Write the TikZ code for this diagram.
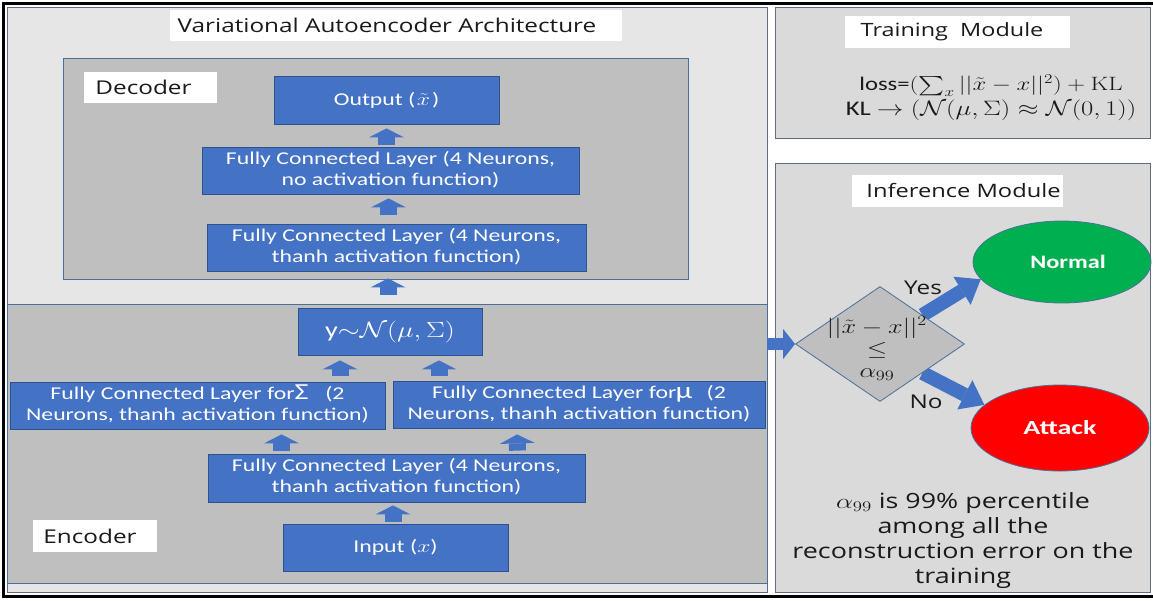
\RequirePackage{fix-cm}
\documentclass[tikz,border=0pt]{standalone}
\usepackage{amsmath,amssymb}
\usepackage[no-math]{fontspec}
\usepackage{graphicx}
\setmainfont{Carlito}
\newfontfamily\osans{Open Sans}
\usetikzlibrary{calc,shapes.geometric,arrows.meta}
\definecolor{boxblue}{HTML}{4472C4}
\definecolor{boxedge}{HTML}{2F528F}
\definecolor{panelgray}{HTML}{BFBFBF}
\definecolor{paneledge}{HTML}{4A6F99}
\definecolor{lightpanel}{HTML}{E7E6E6}
\definecolor{rightpanel}{HTML}{DADADA}
\definecolor{rpedge}{HTML}{5E6E80}
\definecolor{okgreen}{HTML}{00B050}
\definecolor{txtdark}{HTML}{1A1A1A}
\newcommand{\hs}[1]{\scalebox{1.28}[1]{#1}}
\newcommand{\hsb}[1]{\scalebox{1.32}[1]{#1}}
\newcommand{\twol}[2]{\hsb{\begin{tabular}{@{}c@{}}#1\\#2\end{tabular}}}
\pgfdeclarelayer{panels}
\pgfdeclarelayer{arrowlayer}
\pgfsetlayers{panels,arrowlayer,main}
\begin{document}
\begin{tikzpicture}[x=1pt,y=-1pt,
  sz/.style 2 args={minimum width=#1pt,minimum height=#2pt},
  lpanel/.style={fill=lightpanel,draw=rpedge,line width=0.8pt,inner sep=0pt},
  panel/.style={fill=panelgray,draw=paneledge,line width=0.8pt,inner sep=0pt},
  rpanel/.style={fill=rightpanel,draw=rpedge,line width=0.9pt,inner sep=0pt},
  wlabel/.style={fill=white,inner sep=0pt,text=txtdark,font=\osans\fontsize{19}{22}\selectfont},
  bluebox/.style={fill=boxblue,draw=boxedge,line width=0.8pt,inner sep=0pt,text=white,font=\fontsize{18}{21}\selectfont},
  uarrow/.style={draw=boxblue,line width=17pt,-{Triangle[width=35pt,length=9pt,line width=0pt]}},
  earrow/.style={draw=boxblue,line width=12pt,-{Triangle[width=30pt,length=12pt,line width=0pt]}},
  darrow/.style={draw=boxblue,line width=14pt,-{Triangle[width=33pt,length=22pt,line width=0pt]}},
  oval/.style={ellipse,draw=paneledge,line width=0.8pt,inner sep=0pt,minimum width=178pt,minimum height=82pt,text=white,font=\bfseries\fontsize{19}{22}\selectfont},
  plain/.style={text=txtdark,inner sep=0pt}]
\useasboundingbox (0,0) rectangle (1153,600);

\begin{pgfonlayer}{panels}
\fill[white] (0,0) rectangle (1153,600);
\node[lpanel,sz={760}{585}] (vae) at (387,299.5) {};
\node[panel,sz={625}{221}] (decp) at (375.5,168.5) {};
\node[panel,sz={760}{279}] (encp) at (387,443.5) {};
\node[rpanel,sz={375}{131}] (train) at (962.5,72.5) {};
\node[rpanel,sz={375}{429}] (inf) at (962.5,377.5) {};
\end{pgfonlayer}

\draw[line width=3pt] (1153,3.5) -- (3.5,3.5) -- (3.5,596) -- (1153,596);

% left: VAE
\node[wlabel,sz={452}{31}] (title) at (396,25.5) {\hs{Variational Autoencoder Architecture}\hspace*{18pt}};
\node[wlabel,sz={133}{31}] (decl) at (150.5,87.5) {\hs{Decoder}\hspace*{14pt}};
\node[bluebox,sz={225}{48}] (out) at (386.5,100) {\hsb{Output (\kern1pt$\tilde{x}$\kern1.5pt)}};
\node[bluebox,sz={377}{47}] (fc1) at (390.5,170.5) {\twol{Fully Connected Layer (4 Neurons,}{no activation function)}};
\node[bluebox,sz={379}{47}] (fc2) at (396.5,247.5) {\twol{Fully Connected Layer (4 Neurons,}{thanh activation function)}};
\node[bluebox,sz={184}{47},font=\fontsize{22}{24}\selectfont] (lat) at (390,331.5) {\hs{y$\mathord{\sim}\mathcal{N}(\mu,\Sigma)$}};
\node[bluebox,sz={375}{47}] (fcs) at (197.5,405.5) {\twol{Fully Connected Layer for{\fontsize{23}{23}\selectfont Σ}\hspace{0.7em}(2}{Neurons, thanh activation function)}};
\node[bluebox,sz={372}{47}] (fcm) at (579,404.5) {\twol{Fully Connected Layer for\kern-0.5pt{\fontsize{23}{23}\selectfont μ}\hspace{0.6em}(2}{Neurons, thanh activation function)}};
\node[bluebox,sz={377}{48}] (fc3) at (396.5,478) {\twol{Fully Connected Layer (4 Neurons,}{thanh activation function)}};
\node[bluebox,sz={225}{47}] (inp) at (395.5,547.5) {\hsb{Input ($x$)}};
\node[wlabel,sz={124}{32}] (encl) at (95,536) {\hs{Encoder}\hspace*{10pt}};

\begin{pgfonlayer}{arrowlayer}
\draw[uarrow] ($(out.south |- fc1.north)+(0,-2)$) -- ($(out.south)+(0,4)$);
\draw[uarrow] ($(fc1.south)+(-2,21)$) -- ($(fc1.south)+(-2,4)$);
\draw[uarrow] ($(lat.north |- encp.north)+(-2,-9)$) -- ($(lat.north |- decp.south)+(-2,-1)$);
\draw[uarrow] ($(lat.south |- fcs.north)+(-50,-6)$) -- ($(lat.south)+(-50,5)$);
\draw[uarrow] ($(lat.south |- fcm.north)+(49,-5)$) -- ($(lat.south)+(49,5)$);
\draw[uarrow] ($(fc3.north)+(-115,-3)$) -- ($(fcs.south)+(84,5)$);
\draw[uarrow] ($(fc3.north)+(121,-3)$) -- ($(fcm.south)+(-62,6)$);
\draw[uarrow] ($(inp.north)+(-2.5,-2)$) -- ($(fc3.south)+(-3.5,3)$);
\end{pgfonlayer}

% right: training
\node[wlabel,sz={225}{32},font=\osans\fontsize{18.3}{22}\selectfont] (trainl) at (957.5,32) {\hs{Training\ \ Module}\hspace*{11pt}};
\node[plain,font=\fontsize{19.3}{25}\selectfont] (loss) at (991,98) {\hs{\begin{tabular}{@{}c@{}}loss=$(\sum_x||\tilde{x}-x||^2)+\mathrm{KL}$\\\scalebox{1.08}{KL $\rightarrow(\mathcal{N}(\mu,\Sigma)\approx\mathcal{N}(0,1))$}\end{tabular}}};

% right: inference
\node[wlabel,sz={211}{32},font=\osans\fontsize{18.5}{22}\selectfont] (infl) at (957.5,191) {\hspace*{12pt}\hs{Inference Module}};
\node[diamond,draw=paneledge,line width=0.8pt,fill=panelgray,minimum width=169pt,minimum height=115pt,inner sep=0pt] (dia) at (880,344) {};
\node[plain,font=\fontsize{20.5}{22}\selectfont] (diat) at (877,350) {\hs{\begin{tabular}{@{}c@{}}$||\tilde{x}-x||^2$\\$\leq$\\$\alpha_{99}$\end{tabular}}};
\node[oval,fill=okgreen] (norm) at (1062,262) {\hspace*{12pt}\hs{Normal}};
\node[oval,fill=red,minimum height=86pt,font=\bfseries\fontsize{20}{22}\selectfont] (att) at (1060,428) {\scalebox{1.4}[1]{Attack}};
\node[plain,font=\osans\fontsize{19}{22}\selectfont] (yes) at (923,288) {\hs{Yes}};
\node[plain,font=\osans\fontsize{19}{22}\selectfont] (no) at (926,402) {\hs{No}};
\node[plain,font=\osans\fontsize{21}{25}\selectfont] (note) at (963,541) {\hs{\begin{tabular}{@{}c@{}}$\alpha_{99}$ is 99\% percentile\\among all the\\reconstruction error on the\\training\end{tabular}}};

\begin{pgfonlayer}{arrowlayer}
\draw[earrow] (encp.east |- dia.west) -- (dia.west);
\draw[darrow] (dia.north east) -- (norm.192);
\draw[darrow] (dia.south east) -- (att.163);
\end{pgfonlayer}
\end{tikzpicture}
\end{document}
